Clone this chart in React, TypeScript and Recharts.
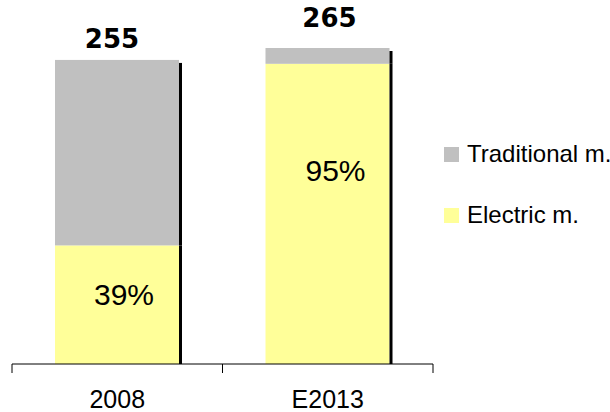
import React from 'react';
import { BarChart, Bar, XAxis, YAxis, LabelList, Legend } from 'recharts';

const categories = ['2008', 'E2013'];
const totals = [255, 265];
const electricSharePct = [39, 95];
const seriesNames = { electric: 'Electric m.', traditional: 'Traditional m.' };

const data = categories.map((category, i) => {
  const electric = (totals[i] * electricSharePct[i]) / 100;
  return {
    category,
    electric,
    traditional: totals[i] - electric,
    total: totals[i],
    share: electricSharePct[i],
  };
});

const GREY = '#C0C0C0';
const YELLOW = '#FFFF99';
const FONT = '"Liberation Sans", Arial, sans-serif';

const CHART_W = 610;
const CHART_H = 412;
const MARGIN = { top: 48, right: 177, left: 12, bottom: 0 };
const BAND = (CHART_W - MARGIN.left - MARGIN.right) / categories.length;

// style offsets for labels (per bar)
const topLabelGap = [12, 21];
const topLabelDx = [-5, 2];
const pctLabelDy = [60, 117];
const pctLabelDx = [7, 8];

const makeShape = (shadowDy: number) => (props: any) => {
  const { x, y, width, height, fill } = props;
  if (height == null || height <= 0) return <g />;
  return (
    <g>
      <rect x={x} y={y} width={width} height={height} fill={fill} />
      <rect x={x + width} y={y + shadowDy} width={3} height={Math.max(0, height - shadowDy)} fill="#000" />
    </g>
  );
};

const TopLabel = (props: any) => {
  const { x, y, width, index } = props;
  return (
    <text
      x={x + width / 2 + topLabelDx[index]}
      y={y - topLabelGap[index]}
      textAnchor="middle"
      fontFamily='"DejaVu Sans", sans-serif'
      fontWeight="bold"
      fontSize={26}
      fill="#000"
    >
      {data[index].total}
    </text>
  );
};

const PctLabel = (props: any) => {
  const { x, y, width, index } = props;
  return (
    <text
      x={x + width / 2 + pctLabelDx[index]}
      y={y + pctLabelDy[index]}
      textAnchor="middle"
      fontFamily={FONT}
      fontSize={30}
      fill="#000"
    >
      {`${data[index].share}%`}
    </text>
  );
};

const CategoryTick = (props: any) => {
  const { x, y, payload, index } = props;
  const left = x - BAND / 2;
  const right = x + BAND / 2;
  return (
    <g>
      <line x1={left} y1={y} x2={left} y2={y + 9} stroke="#000" strokeWidth={1} />
      {index === categories.length - 1 && (
        <line x1={right} y1={y} x2={right} y2={y + 9} stroke="#000" strokeWidth={1} />
      )}
      <text x={x} y={y + 44} textAnchor="middle" fontFamily={FONT} fontSize={25} fill="#000">
        {payload.value}
      </text>
    </g>
  );
};

const LegendContent = (props: any) => {
  const payload = [...(props.payload || [])].reverse();
  return (
    <svg width={CHART_W} height={CHART_H} style={{ position: 'absolute', left: 0, top: 0, pointerEvents: 'none' }}>
      {payload.map((p: any, i: number) => (
        <g key={p.value}>
          <rect x={444} y={147 + i * 61} width={15} height={15} fill={p.color} />
          <text x={467} y={162 + i * 61} fontFamily={FONT} fontSize={24} fill="#000">
            {p.value}
          </text>
        </g>
      ))}
    </svg>
  );
};

export default function App() {
  return (
    <div style={{ position: 'absolute', left: 0, top: 0, width: CHART_W, height: CHART_H, background: '#fff' }}>
      <BarChart width={CHART_W} height={CHART_H} data={data} margin={MARGIN} barSize={124}>
        <XAxis
          dataKey="category"
          axisLine={{ stroke: '#000', strokeWidth: 1 }}
          tickLine={false}
          tickSize={0}
          tickMargin={0}
          height={48}
          interval={0}
          tick={<CategoryTick />}
        />
        <YAxis hide domain={[0, 265]} allowDataOverflow />
        <Legend
          layout="horizontal"
          verticalAlign="middle"
          align="center"
          wrapperStyle={{ left: 0, top: 0, width: CHART_W, height: CHART_H, pointerEvents: 'none' }}
          content={<LegendContent />}
        />
        <Bar
          dataKey="electric"
          name={seriesNames.electric}
          stackId="s"
          fill={YELLOW}
          isAnimationActive={false}
          shape={makeShape(0)}
        >
          <LabelList dataKey="electric" content={<PctLabel />} />
        </Bar>
        <Bar
          dataKey="traditional"
          name={seriesNames.traditional}
          stackId="s"
          fill={GREY}
          isAnimationActive={false}
          shape={makeShape(3)}
        >
          <LabelList dataKey="traditional" content={<TopLabel />} />
        </Bar>
      </BarChart>
    </div>
  );
}
